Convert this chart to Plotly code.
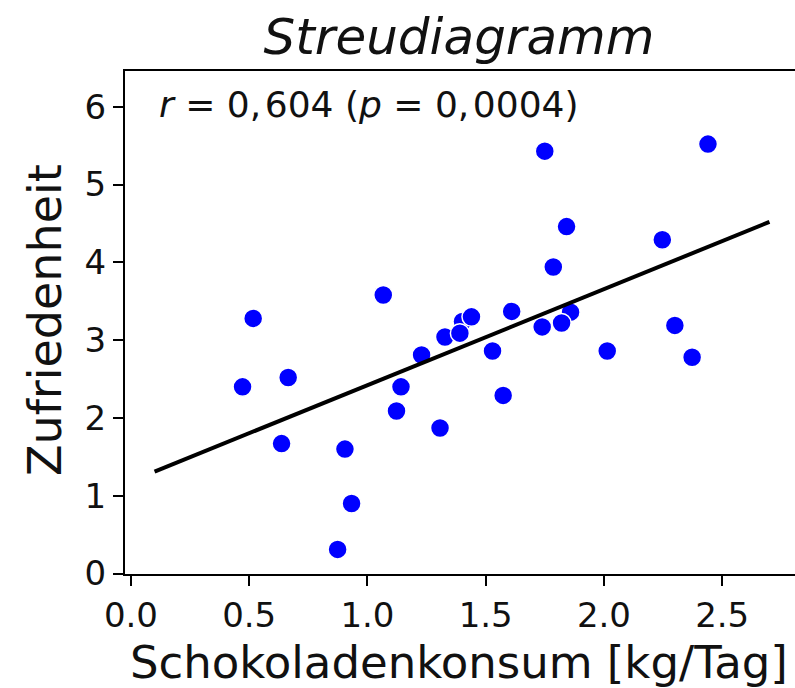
import plotly.graph_objects as go

# Data
konsum = [0.517, 1.067, 1.402, 1.44, 1.328, 1.391, 1.229, 1.529, 1.75, 2.44,
          1.842, 2.247, 1.786, 1.61, 1.859, 1.739, 1.821, 2.30, 2.014, 2.373,
          0.472, 0.665, 0.637, 0.905, 0.933, 0.874, 1.142, 1.123, 1.307, 1.574]
zufriedenheit = [3.28, 3.58, 3.24, 3.30, 3.04, 3.09, 2.81, 2.86, 5.43, 5.52,
                 4.46, 4.29, 3.94, 3.37, 3.36, 3.17, 3.22, 3.19, 2.86, 2.78,
                 2.40, 2.52, 1.67, 1.60, 0.90, 0.31, 2.40, 2.09, 1.87, 2.29]
fit_x = [0.1, 2.7]
fit_y = [1.31, 4.52]
x_ticks = [0.0, 0.5, 1.0, 1.5, 2.0, 2.5]
x_tick_labels = ["0.0", "0.5", "1.0", "1.5", "2.0", "2.5"]
y_ticks = [0, 1, 2, 3, 4, 5, 6]

FONT = "DejaVu Sans"
TXT = "#111111"

fig = go.Figure()
fig.add_trace(go.Scatter(
    x=konsum, y=zufriedenheit, mode="markers",
    marker=dict(color="#0000ff", size=19, line=dict(color="white", width=1.5)),
    showlegend=False, hoverinfo="skip"))
fig.add_trace(go.Scatter(
    x=fit_x, y=fit_y, mode="lines",
    line=dict(color="black", width=4),
    showlegend=False, hoverinfo="skip"))

fig.update_layout(
    width=795, height=688,
    margin=dict(l=125, r=0, t=71, b=114),
    paper_bgcolor="white", plot_bgcolor="white",
    font=dict(family=FONT, color=TXT),
    title=dict(text="<i>Streudiagramm</i>", x=(459 / 795), xanchor="center",
               y=1 - 36 / 688, yanchor="middle", yref="container",
               font=dict(size=50, family=FONT, color=TXT)),
)
fig.update_xaxes(
    range=[-0.025, 2.808], tickmode="array", tickvals=x_ticks, ticktext=x_tick_labels,
    ticks="outside", ticklen=10, tickwidth=2, tickcolor="black",
    showline=True, linecolor="black", linewidth=2, mirror=True,
    showgrid=False, zeroline=False, tickfont=dict(size=34, family=FONT, color=TXT))
fig.update_yaxes(
    range=[-0.006, 6.46], tickmode="array", tickvals=y_ticks,
    ticks="outside", ticklen=10, tickwidth=2, tickcolor="black",
    showline=True, linecolor="black", linewidth=2, mirror=False,
    showgrid=False, zeroline=False, tickfont=dict(size=34, family=FONT, color=TXT))

fig.add_annotation(text="Schokoladenkonsum [kg/Tag]", xref="paper", yref="paper",
                   x=(459 - 125) / 670, y=(574 - 662) / 503, xanchor="center", yanchor="middle",
                   showarrow=False, font=dict(size=45, family=FONT, color=TXT))
fig.add_annotation(text="Zufriedenheit", xref="paper", yref="paper", textangle=-90,
                   x=(45 - 125) / 670, y=(574 - 320) / 503, xanchor="center", yanchor="middle",
                   showarrow=False, font=dict(size=46, family=FONT, color=TXT))
fig.add_annotation(text="<i>r</i> = 0,\u200a604 (<i>p</i> = 0,\u200a0004)", xref="paper", yref="paper",
                   x=(157 - 125) / 670, y=(574 - 105) / 503, xanchor="left", yanchor="middle",
                   showarrow=False, font=dict(size=36, family=FONT, color=TXT))

fig.write_html("out.html")
